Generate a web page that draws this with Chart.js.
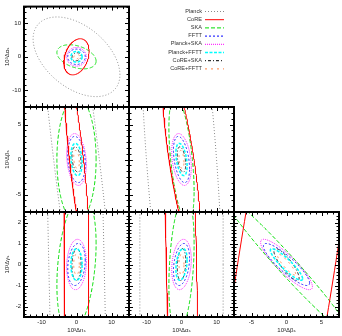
<!DOCTYPE html>
<html><head><meta charset="utf-8">
<script src="https://cdn.jsdelivr.net/npm/chart.js@4/dist/chart.umd.min.js"></script>
<style>
html,body{margin:0;padding:0;background:#fff;}
#wrap{position:relative;width:342px;height:336px;overflow:hidden;background:#fff;}
#wrap canvas{position:absolute;left:0;top:0;}
</style></head><body><div id="wrap"></div>
<script>
// ---- data ----
const experiments = ['Planck','CoRE','SKA','FFTT','Planck+SKA','Planck+FFTT','CoRE+SKA','CoRE+FFTT'];
const paramNames  = ['10³Δnₛ','10³Δαₛ','10³Δβₛ','10³Δγₛ'];
// half-extent of each forecast contour along each parameter
const sigmaNs    = [12.4, 3.6, 5.6, 2.5, 2.8, 1.6, 1.3, 0.8];
const sigmaAlpha = [11.9, 5.4, 3.6, 2.3, 2.8, 1.6, 1.2, 0.7];
const sigmaBeta  = [44.0, 13.7, 9.0, 3.3, 3.7, 2.3, 1.8, 1.3];
const sigmaGamma = [73.0, 25.0, 3.3, 1.0, 1.2, 0.75, 0.76, 0.5];
// correlation coefficients between parameter pairs
const rhoNsAlpha    = [-0.45, 0.30, -0.36, 0.0, 0.0, 0.0, 0.2, 0.3];
const rhoNsBeta     = [-0.85, -0.83, 0.0, -0.2, -0.2, -0.2, -0.3, -0.3];
const rhoNsGamma    = [-0.77, -0.30, 0.30, 0.2, 0.1, 0.0, 0.1, 0.0];
const rhoAlphaBeta  = [-0.54, -0.75, -0.50, -0.4, -0.3, -0.4, -0.4, -0.3];
const rhoAlphaGamma = [0.0, -0.6, 0.3, 0.3, 0.2, 0.3, 0.2, 0.0];
const rhoBetaGamma  = [0.0, 0.86, -0.98, -0.88, -0.88, -0.9, -0.85, -0.9];
// axis ranges and tick labels
const axisMin = [-15, -15, -7.5, -2.5];
const axisMax = [15, 15, 7.5, 2.5];
const tickLabels = [[-10,0,10],[-10,0,10],[-5,0,5],[-2,-1,0,1,2]];
const minorPerMajor = [6, 6, 6, 6];
const majorStep = [10, 10, 5, 1];

// ---- styling ----
const styles = [
  {color:'#8a8a8a', dash:[1,2],     width:1},
  {color:'#ff0000', dash:[],        width:1},
  {color:'#00dd00', dash:[4,2],     width:1},
  {color:'#0000ff', dash:[2,2],     width:1},
  {color:'#ff00ff', dash:[1,1],     width:1},
  {color:'#00ffff', dash:[3,1.5],   width:1.5},
  {color:'#000000', dash:[1,2,3,2], width:1},
  {color:'#ff7f3f', dash:[2,4],     width:1}
];
const FONT = {family:'"Liberation Sans", Arial, "DejaVu Sans", sans-serif', size:6};
const X = [24, 129, 234, 339];
const Y = [2, 107, 212, 317];
const W = 342, H = 336;

const sigmas = [sigmaNs, sigmaAlpha, sigmaBeta, sigmaGamma];
function rhoOf(p, q) {
  const key = [p, q].sort().join('');
  return {'01':rhoNsAlpha,'02':rhoNsBeta,'03':rhoNsGamma,'12':rhoAlphaBeta,'13':rhoAlphaGamma,'23':rhoBetaGamma}[key];
}
function contour(sx, sy, r) {
  const N = 360, q = Math.sqrt(1 - r*r), pts = [];
  for (let i = 0; i <= N; i++) {
    const t = 2*Math.PI*i/N;
    pts.push({x: sx*Math.cos(t), y: sy*(r*Math.cos(t) + q*Math.sin(t))});
  }
  return pts;
}

const framePlugin = {
  id: 'frame',
  afterDatasetsDraw(chart) {
    const {ctx, chartArea: a} = chart;
    const px = chart.options.plugins.frame.px, py = chart.options.plugins.frame.py;
    ctx.save();
    ctx.strokeStyle = '#000';
    ctx.lineWidth = 1;
    const drawTicks = (scale, p, horizontal) => {
      const step = majorStep[p] / minorPerMajor[p];
      const n0 = Math.ceil(axisMin[p]/step - 1e-6), n1 = Math.floor(axisMax[p]/step + 1e-6);
      for (let k = n0; k <= n1; k++) {
        const v = k*step;
        const major = Math.abs(v/majorStep[p] - Math.round(v/majorStep[p])) < 1e-6;
        const len = major ? 4 : 2.5;
        const pix = Math.round(scale.getPixelForValue(v)) + 0.5;
        ctx.beginPath();
        if (horizontal) {
          ctx.moveTo(pix, a.bottom); ctx.lineTo(pix, a.bottom - len);
          ctx.moveTo(pix, a.top); ctx.lineTo(pix, a.top + len);
        } else {
          ctx.moveTo(a.left, pix); ctx.lineTo(a.left + len, pix);
          ctx.moveTo(a.right, pix); ctx.lineTo(a.right - len, pix);
        }
        ctx.stroke();
      }
    };
    drawTicks(chart.scales.x, px, true);
    drawTicks(chart.scales.y, py, false);
    ctx.lineWidth = 2;
    ctx.strokeRect(a.left, a.top, a.right - a.left, a.bottom - a.top);
    ctx.restore();
  }
};

const legendPlugin = {
  id: 'customLegend',
  afterDraw(chart) {
    if (!chart.options.plugins.customLegend.show) return;
    const ctx = chart.ctx;
    ctx.save();
    ctx.font = '5.6px ' + FONT.family;
    ctx.textAlign = 'right';
    ctx.textBaseline = 'middle';
    chart.data.datasets.forEach((ds, i) => {
      const y = 11 + i*8.2;
      ctx.fillStyle = '#333';
      ctx.fillText(ds.label, 202, y);
      ctx.strokeStyle = ds.borderColor;
      ctx.lineWidth = ds.borderWidth;
      ctx.setLineDash(ds.borderDash || []);
      ctx.beginPath();
      ctx.moveTo(205, y + 0.5); ctx.lineTo(224, y + 0.5);
      ctx.stroke();
    });
    ctx.restore();
  }
};

const wrap = document.getElementById('wrap');
for (let r = 0; r < 3; r++) {
  for (let c = 0; c <= r; c++) {
    const px = c, py = r + 1;
    const isLeft = c === 0, isBottom = r === 2;
    const rho = rhoOf(px, py);
    const datasets = experiments.map((name, i) => ({
      label: name,
      data: contour(sigmas[px][i], sigmas[py][i], rho[i]),
      borderColor: styles[i].color,
      borderDash: styles[i].dash,
      borderWidth: styles[i].width,
      showLine: true, fill: false, pointRadius: 0, tension: 0
    }));
    const cv = document.createElement('canvas');
    cv.width = W; cv.height = H;
    wrap.appendChild(cv);
    new Chart(cv, {
      type: 'scatter',
      data: {datasets},
      plugins: [framePlugin, legendPlugin],
      options: {
        responsive: false, animation: false, devicePixelRatio: 1,
        events: [],
        layout: {padding: {left: isLeft ? 0 : X[c], right: W - X[c+1], top: Y[r], bottom: isBottom ? 0 : H - Y[r+1]}},
        plugins: {legend: {display: false}, tooltip: {enabled: false},
                  frame: {px, py}, customLegend: {show: r === 0 && c === 0}},
        scales: {
          x: {
            type: 'linear', min: axisMin[px], max: axisMax[px],
            grid: {display: false, drawTicks: false}, border: {display: false},
            ticks: {display: isBottom, font: FONT, color: '#222', padding: 2, maxRotation: 0, autoSkip: false,
                    callback: v => String(v)},
            afterBuildTicks: s => { s.ticks = tickLabels[px].map(v => ({value: v})); },
            afterFit: s => { s.height = isBottom ? H - Y[3] : 0; },
            title: {display: isBottom, text: paramNames[px], font: FONT, color: '#222', padding: {top: 0, bottom: 2}}
          },
          y: {
            type: 'linear', min: axisMin[py], max: axisMax[py],
            grid: {display: false, drawTicks: false}, border: {display: false},
            ticks: {display: isLeft, font: FONT, color: '#222', padding: 3, autoSkip: false,
                    callback: v => String(v)},
            afterBuildTicks: s => { s.ticks = tickLabels[py].map(v => ({value: v})); },
            afterFit: s => { s.width = isLeft ? X[0] : 0; },
            title: {display: isLeft, text: paramNames[py], font: FONT, color: '#222', padding: {top: 4, bottom: 0}}
          }
        }
      }
    });
  }
}
</script></body></html>
